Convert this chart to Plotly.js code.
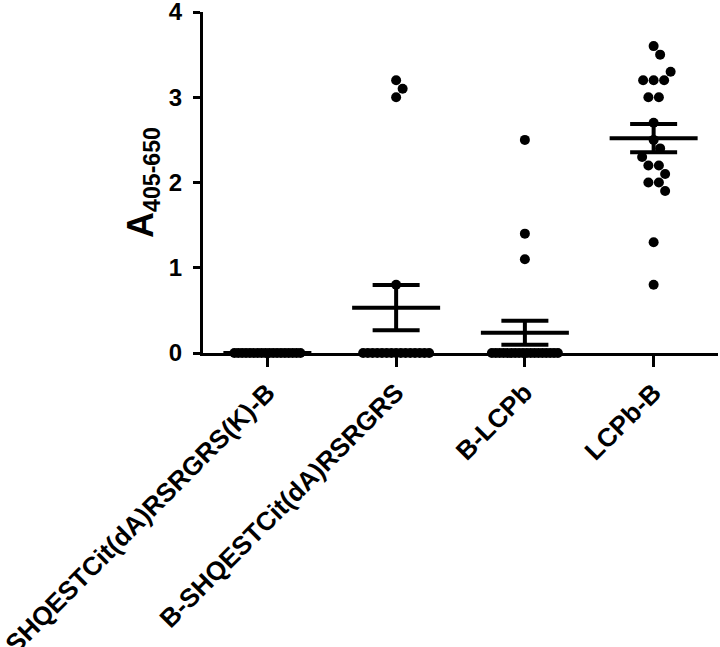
<!DOCTYPE html>
<html>
<head>
<meta charset="utf-8">
<script src="https://cdn.plot.ly/plotly-3.0.1.min.js"></script>
<style>html,body{margin:0;padding:0;background:#fff;}#chart{width:720px;height:647px;}</style>
</head>
<body>
<div id="chart"></div>
<script>
// ---- data ----
const categories = ["SHQESTCit(dA)RSRGRS(K)-B", "B-SHQESTCit(dA)RSRGRS", "B-LCPb", "LCPb-B"];
const group1Values = [0,0,0,0,0,0,0,0,0,0,0,0,0,0,0,0,0,0];
const group2Values = [0,0,0,0,0,0,0,0,0,0,0,0,0,0,0,0.8,3.0,3.1,3.2];
const group3Values = [0,0,0,0,0,0,0,0,0,0,0,0,0,0,0,0,0,0,1.1,1.4,2.5];
const group4Values = [3.6,3.5,3.3,3.2,3.2,3.2,3.0,3.0,2.7,2.5,2.4,2.3,2.2,2.2,2.1,2.0,2.0,1.9,1.3,0.8];
const yTickValues = [0,1,2,3,4];

const groups = [group1Values, group2Values, group3Values, group4Values];

// ---- geometry (for spreading dots) ----
const W = 720, H = 647;
const M = {l: 203, r: 2, t: 12, b: 294};
const xRange = [-0.5, 3.5], yRange = [0, 4];
const plotW = W - M.l - M.r, plotH = H - M.t - M.b;
const xPx = plotW / (xRange[1] - xRange[0]);
const yPx = plotH / (yRange[1] - yRange[0]);

function swarm(vals) {
  const d = 10.5, maxHalf = 33;
  const pos = new Array(vals.length);
  const placed = [];
  const rows = new Map();
  vals.forEach((v, i) => { const k = v.toFixed(3); if (!rows.has(k)) rows.set(k, []); rows.get(k).push(i); });
  const all = [...rows.values()];
  all.filter(r => r.length > 1).forEach(r => {
    const k = r.length;
    const s = Math.min(d, 2 * maxHalf / (k - 1));
    r.forEach((idx, j) => { const dx = (j - (k - 1) / 2) * s; pos[idx] = dx; placed.push([dx, vals[idx] * yPx]); });
  });
  all.filter(r => r.length === 1).map(r => r[0]).sort((a, b) => vals[b] - vals[a]).forEach(idx => {
    const y = vals[idx] * yPx;
    for (let step = 0; step < 400; step++) {
      const cands = step === 0 ? [0] : [step * 0.5, -step * 0.5];
      let found = null;
      for (const c of cands) {
        if (placed.every(p => Math.hypot(p[0] - c, p[1] - y) >= d)) { found = c; break; }
      }
      if (found !== null) { pos[idx] = found; placed.push([found, y]); break; }
    }
  });
  return pos.map(p => p / xPx);
}

const dotX = [], dotY = [];
groups.forEach((vals, gi) => {
  const offs = swarm(vals);
  vals.forEach((v, i) => { dotX.push(gi + offs[i]); dotY.push(v); });
});

const lineX = [], lineY = [];
const meanHalf = 44 / xPx, capHalf = 23.5 / xPx;
groups.forEach((vals, gi) => {
  const n = vals.length;
  const m = vals.reduce((a, b) => a + b, 0) / n;
  const sd = Math.sqrt(vals.reduce((a, b) => a + (b - m) * (b - m), 0) / (n - 1));
  const s = sd / Math.sqrt(n);
  lineX.push(gi - meanHalf, gi + meanHalf, null, gi, gi, null, gi - capHalf, gi + capHalf, null, gi - capHalf, gi + capHalf, null);
  lineY.push(m, m, null, m - s, m + s, null, m + s, m + s, null, m - s, m - s, null);
});

const FONT = '"Liberation Sans", Arial, Helvetica, sans-serif';

const traces = [
  {type: 'scatter', mode: 'markers', x: dotX, y: dotY, cliponaxis: false,
   marker: {color: '#000', size: 10, line: {width: 0}}, hoverinfo: 'y'},
  {type: 'scatter', mode: 'lines', x: lineX, y: lineY, cliponaxis: false, connectgaps: false,
   line: {color: '#000', width: 4}, hoverinfo: 'skip'}
];

const layout = {
  width: W, height: H,
  margin: M,
  paper_bgcolor: '#fff', plot_bgcolor: '#fff',
  showlegend: false,
  font: {family: FONT, color: '#000'},
  xaxis: {
    range: xRange, showgrid: false, zeroline: false,
    showline: true, linecolor: '#000', linewidth: 3,
    ticks: 'outside', ticklen: 11, tickwidth: 3, tickcolor: '#000',
    tickvals: [0, 1, 2, 3], ticktext: categories,
    tickangle: -45, tickfont: {family: FONT, size: 26, weight: 'bold', color: '#000'},
    ticklabeloverflow: 'allow',
    layer: 'below traces', fixedrange: true
  },
  yaxis: {
    range: yRange, showgrid: false, zeroline: false,
    showline: true, linecolor: '#000', linewidth: 3,
    ticks: 'outside', ticklen: 7, tickwidth: 3, tickcolor: '#000',
    tickvals: yTickValues, ticktext: yTickValues.map(String),
    tickfont: {family: FONT, size: 24, weight: 'bold', color: '#000'},
    ticklabeloverflow: 'allow',
    ticklabelstandoff: 6,
    title: {text: '<b><span style="font-size:36px">A</span><sub>405-650</sub></b>', font: {family: FONT, size: 33, color: '#000'}, standoff: 6},
    layer: 'below traces', fixedrange: true
  }
};

Plotly.newPlot('chart', traces, layout, {staticPlot: true, displayModeBar: false});
</script>
</body>
</html>
